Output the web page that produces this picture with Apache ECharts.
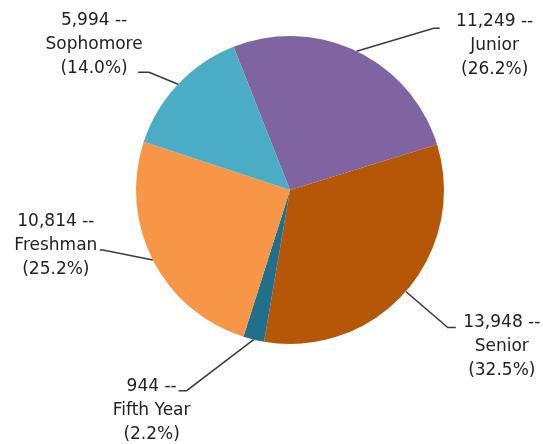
<!DOCTYPE html>
<html>
<head>
<meta charset="utf-8">
<script src="https://cdn.jsdelivr.net/npm/echarts@6/dist/echarts.min.js"></script>
<style>
  html, body { margin: 0; padding: 0; background: #ffffff; }
  #chart { width: 543px; height: 444px; }
</style>
</head>
<body>
<div id="chart"></div>
<script>
// Data (clockwise order starting at the top)
const categories = ['Junior', 'Senior', 'Fifth Year', 'Freshman', 'Sophomore'];
const studentCounts = [11249, 13948, 944, 10814, 5994];
const sliceColors = ['#8064a2', '#b65708', '#21708a', '#f79646', '#4bacc6'];

// Leader-line shapes, relative to the library-computed slice edge point
const leaderElbow = [[77, -23], [42, 36], [-67, 51], [-50, -10], [-29, -12]];
const leaderTail = [6, 8, -8, -3, -11];
const labelShift = [[55, 17], [46, 19], [-27, 20], [-44, -4], [-44, -28]];

const chart = echarts.init(document.getElementById('chart'), null, { renderer: 'canvas' });

const pieData = categories.map((name, i) => ({
  name: name,
  value: studentCounts[i],
  itemStyle: { color: sliceColors[i] }
}));

chart.setOption({
  animation: false,
  backgroundColor: '#ffffff',
  series: [{
    type: 'pie',
    center: [290, 190],
    radius: 154,
    startAngle: 111.5,
    clockwise: true,
    avoidLabelOverlap: false,
    itemStyle: { borderWidth: 0 },
    emphasis: { disabled: true },
    data: pieData,
    label: {
      show: true,
      position: 'outside',
      fontFamily: 'DejaVu Sans',
      fontSize: 17,
      lineHeight: 24,
      color: '#222222',
      formatter: function (p) {
        const pct = (p.value / studentCounts.reduce((a, b) => a + b, 0) * 100).toFixed(1);
        return echarts.format.addCommas(p.value) + ' --\n' + p.name + '\n(' + pct + '%)';
      }
    },
    labelLine: {
      show: true,
      length: 20,
      length2: 10,
      smooth: false,
      lineStyle: { color: '#3a3a3a', width: 1.5 }
    },
    labelLayout: function (params) {
      const i = params.dataIndex;
      const p0 = params.labelLinePoints[0];
      const p1 = [p0[0] + leaderElbow[i][0], p0[1] + leaderElbow[i][1]];
      const p2 = [p1[0] + leaderTail[i], p1[1]];
      return {
        x: p2[0] + labelShift[i][0],
        y: p2[1] + labelShift[i][1],
        align: 'center',
        verticalAlign: 'middle',
        labelLinePoints: [p0, p1, p2]
      };
    }
  }]
});
</script>
</body>
</html>
